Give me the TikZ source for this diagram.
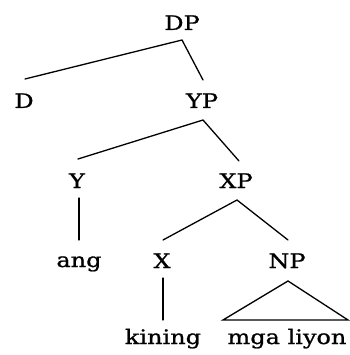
\documentclass[tikz,border=0pt]{standalone}
\usepackage{fontspec}
\setmainfont[FakeStretch=1.2,FakeBold=1]{DejaVu Serif}
\begin{document}
\begin{tikzpicture}[x=1pt,y=-1pt,
  lab/.style={inner sep=0pt, anchor=base, font=\fontsize{20}{22}\selectfont},
  edge/.style={line width=1.3pt, line cap=round}]
\useasboundingbox[fill=white] (0,0) rectangle (349,355);
% labels
\node[lab] (DP) at (182,30) {DP};
\node[lab] (D) at (24,108) {D};
\node[lab] (YP) at (202,108) {YP};
\node[lab] (Y) at (77,188) {Y};
\node[lab] (XP) at (236,188) {XP};
\node[lab] (ang) at (79,267) {ang};
\node[lab] (X) at (162,268) {X};
\node[lab] (NP) at (287,268) {NP};
\node[lab] (kining) at (163,344) {kining};
\node[lab] (mga) at (287,344) {mga liyon};
% connector ends
\coordinate (DPb) at (182,40);
\coordinate (Dt) at (25,79);
\coordinate (YPt) at (203,80);
\coordinate (YPb) at (203,120);
\coordinate (Yt) at (78,159);
\coordinate (XPt) at (239,161);
\coordinate (Yb) at (79,198);
\coordinate (angt) at (79,240);
\coordinate (XPb) at (237,200);
\coordinate (Xt) at (163,240);
\coordinate (NPt) at (288,240);
\coordinate (Xb) at (163,278);
\coordinate (kiningt) at (163,320);
\coordinate (NPb) at (288,281);
\coordinate (mgaL) at (223,320);
\coordinate (mgaR) at (348,320);
% connectors
\draw[edge] (Dt) -- (DPb) -- (YPt);
\draw[edge] (Yt) -- (YPb) -- (XPt);
\draw[edge] (Yb) -- (angt);
\draw[edge] (Xt) -- (XPb) -- (NPt);
\draw[edge] (Xb) -- (kiningt);
\draw[edge, line join=miter] (NPb) -- (mgaR) -- (mgaL) -- cycle;
\end{tikzpicture}
\end{document}
